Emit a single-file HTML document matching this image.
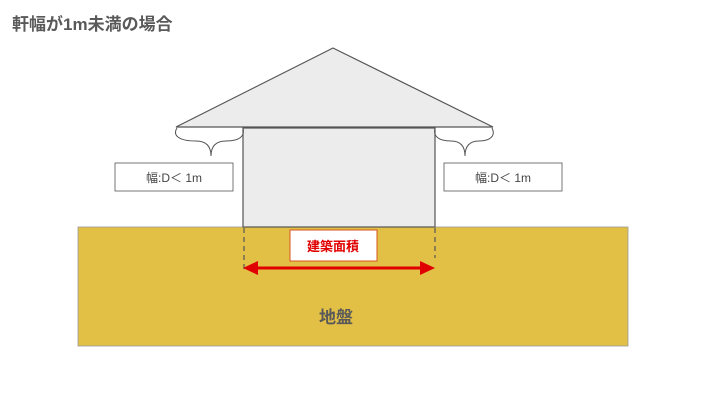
<!DOCTYPE html>
<html><head><meta charset="utf-8"><style>
body{margin:0;width:720px;height:405px;background:#fff;overflow:hidden}
</style></head><body>
<svg width="720" height="405" xmlns="http://www.w3.org/2000/svg" font-family="Liberation Sans, Noto Sans CJK JP, sans-serif">
<text x="12" y="30" font-size="17" fill="#595959" font-weight="bold">軒幅が1m未満の場合</text>
<rect x="78" y="227" width="550" height="119" fill="#e2bf45" stroke="#999" stroke-width="0.8"/>
<polygon points="176,127 333,48 493,127" fill="#ececec" stroke="#555" stroke-width="1.2"/>
<rect x="243" y="128" width="192" height="99" fill="#ececec" stroke="#555" stroke-width="1.2"/>
<path d="M177,128 C172,136 180,141 196,141 C206,141 211,146 211,156 C211,146 216,141 226,141 C240,141 245,136 243,128" fill="none" stroke="#555" stroke-width="1"/>
<path d="M435,128 C433,136 438,141 451,141 C460,141 465,146 465,156 C465,146 470,141 479,141 C490,141 496,136 492,128" fill="none" stroke="#555" stroke-width="1"/>
<rect x="115" y="163" width="118" height="28" fill="#fff" stroke="#555" stroke-width="0.8"/>
<text x="174" y="182" font-size="12" fill="#444" text-anchor="middle">幅:D＜ 1m</text>
<rect x="444" y="163" width="118" height="28" fill="#fff" stroke="#555" stroke-width="0.8"/>
<text x="503" y="182" font-size="12" fill="#444" text-anchor="middle">幅:D＜ 1m</text>
<line x1="244" y1="228" x2="244" y2="272" stroke="#555" stroke-width="1.2" stroke-dasharray="5,4"/>
<line x1="435" y1="228" x2="435" y2="258" stroke="#555" stroke-width="1.2" stroke-dasharray="5,4"/>
<rect x="290" y="230" width="87" height="31" fill="#fff" stroke="#d9541e" stroke-width="1"/>
<text x="333" y="251" font-size="13" fill="#e00000" font-weight="bold" text-anchor="middle">建築面積</text>
<line x1="252" y1="268" x2="426" y2="268" stroke="#e00000" stroke-width="3"/>
<polygon points="243,268 258,261 258,275" fill="#e00000"/>
<polygon points="435,268 420,261 420,275" fill="#e00000"/>
<text x="336" y="323" font-size="17" fill="#595959" font-weight="bold" text-anchor="middle">地盤</text>
</svg>
</body></html>
